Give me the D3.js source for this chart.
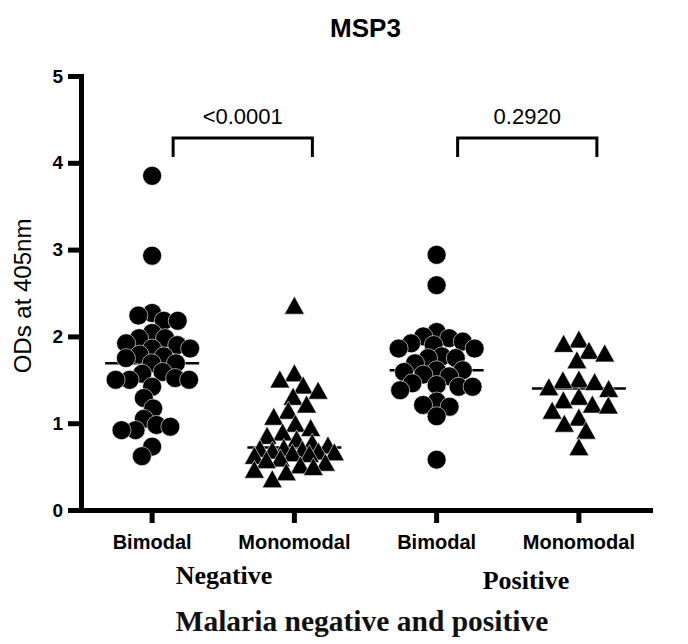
<!DOCTYPE html>
<html>
<head>
<meta charset="utf-8">
<script src="https://cdn.jsdelivr.net/npm/d3@7"></script>
<style>
  body { margin: 0; background: #fff; }
  svg { display: block; }
</style>
</head>
<body>
<div id="chart"></div>
<script>
// group names and x tick labels
const groups = ["negBimodal", "negMonomodal", "posBimodal", "posMonomodal"];
const tickLabels = ["Bimodal", "Monomodal", "Bimodal", "Monomodal"];
const groupShapes = ["circle", "triangle", "circle", "triangle"];

// ODs
const negBimodal = [3.85, 2.93, 2.27, 2.24, 2.18, 2.18, 2.04, 1.98, 1.98, 1.92, 1.90, 1.86, 1.86, 1.79, 1.77, 1.75, 1.69,
  1.69, 1.59, 1.57, 1.52, 1.50, 1.50, 1.50, 1.42, 1.29, 1.17, 1.05, 0.98, 0.96, 0.92, 0.92, 0.73, 0.62];
const negMonomodal = [2.36, 1.58, 1.51, 1.44, 1.38, 1.31, 1.22, 1.15, 1.08, 1.00, 0.95, 0.90, 0.86, 0.82, 0.78, 0.75, 0.72,
  0.71, 0.70, 0.69, 0.68, 0.67, 0.66, 0.65, 0.63, 0.60, 0.58, 0.55, 0.52, 0.50, 0.47, 0.44, 0.36];
const posBimodal = [2.94, 2.59, 2.05, 2.00, 1.98, 1.94, 1.92, 1.90, 1.86, 1.86, 1.77, 1.75, 1.75, 1.69, 1.61,
  1.61, 1.59, 1.56, 1.54, 1.46, 1.44, 1.42, 1.42, 1.38, 1.25, 1.21, 1.19, 1.08, 0.58];
const posMonomodal = [1.97, 1.92, 1.84, 1.81, 1.73, 1.51, 1.50, 1.48, 1.42, 1.40, 1.31, 1.27, 1.22, 1.21, 1.15, 1.07,
  1.00, 0.92, 0.73];

const yTicks = [0, 1, 2, 3, 4, 5];
const comparisons = [
  {from: "negBimodal", to: "negMonomodal", label: "<0.0001"},
  {from: "posBimodal", to: "posMonomodal", label: "0.2920"}
];

const seriesValues = {negBimodal, negMonomodal, posBimodal, posMonomodal};

const width = 688, height = 644;
const margin = {top: 76, left: 81, bottom: 134, right: 38};

const svg = d3.select("#chart").append("svg")
    .attr("width", width)
    .attr("height", height);

const x = d3.scaleBand()
    .domain(groups)
    .range([margin.left, width - margin.right]);

const y = d3.scaleLinear()
    .domain([0, 5])
    .range([height - margin.bottom, margin.top]);

const sans = "'Liberation Sans', Arial, sans-serif";
const serif = "'Liberation Serif', 'Times New Roman', serif";

// beeswarm: each point as close to the centre as it can go,
// vertical distance counts k times, spread capped at maxW
const swarm = (values, d, k, maxW) => {
    const placed = [];
    const pts = values.map(v => ({v, y: y(v)})).sort((a, b) => a.y - b.y);
    const dist2 = (q, c, py) => (q.dx - c) ** 2 + (k * (q.y - py)) ** 2;
    pts.forEach(p => {
        const cands = [0];
        placed.forEach(q => {
            const dy = k * Math.abs(q.y - p.y);
            if (dy < d) {
                const dx = Math.sqrt(d * d - dy * dy);
                cands.push(q.dx + dx, q.dx - dx);
            }
        });
        const ok = cands.filter(c => Math.abs(c) <= maxW && placed.every(q => dist2(q, c, p.y) >= d * d - 0.01));
        ok.sort((a, b) => Math.abs(a) - Math.abs(b) || a - b);
        if (ok.length) {
            p.dx = ok[0];
        } else {
            // no free spot inside the cap: take the least crowded one
            let best = 0, bestD = -1;
            for (let c = 0; c <= maxW; c += 1) {
                [c, -c].forEach(cc => {
                    const m = d3.min(placed, q => dist2(q, cc, p.y));
                    if (m > bestD + 0.5) { bestD = m; best = cc; }
                });
            }
            p.dx = best;
        }
        placed.push(p);
    });
    return placed;
};

const triangle = "M0,-9L10,9L-10,9Z";

// median lines
svg.append("g")
  .selectAll("line")
  .data(groups)
  .join("line")
    .attr("x1", g => x(g) + x.bandwidth() / 2 - 47)
    .attr("x2", g => x(g) + x.bandwidth() / 2 + 47)
    .attr("y1", g => y(d3.median(seriesValues[g])))
    .attr("y2", g => y(d3.median(seriesValues[g])))
    .attr("stroke", "#000")
    .attr("stroke-width", 2.5);

// points
groups.forEach((g, i) => {
    const cx = x(g) + x.bandwidth() / 2;
    const isCircle = groupShapes[i] === "circle";
    const pts = isCircle ? swarm(seriesValues[g], 14, 1, 38) : swarm(seriesValues[g], 16, 1.1, 40);
    const layer = svg.append("g");
    if (isCircle) {
        layer.selectAll("circle")
          .data(pts)
          .join("circle")
            .attr("cx", p => cx + p.dx)
            .attr("cy", p => p.y)
            .attr("r", 9.5)
            .attr("fill", "#000")
            .attr("stroke", "#fff")
            .attr("stroke-width", 0.6);
    } else {
        layer.selectAll("path")
          .data(pts)
          .join("path")
            .attr("d", triangle)
            .attr("transform", p => `translate(${cx + p.dx},${p.y})`)
            .attr("fill", "#000")
            .attr("stroke", "#fff")
            .attr("stroke-width", 0.6);
    }
});

// Y axis
const yAxis = svg.append("g")
    .attr("transform", `translate(${margin.left},0)`)
    .call(d3.axisLeft(y).tickValues(yTicks).tickFormat(d3.format("d")).tickSize(13).tickSizeOuter(0).tickPadding(5));
yAxis.select(".domain").attr("stroke-width", 5).attr("stroke-linecap", "square");
yAxis.selectAll(".tick line").attr("stroke-width", 5);
yAxis.selectAll(".tick text")
    .attr("font-family", sans)
    .attr("font-size", 19)
    .attr("font-weight", "bold")
    .attr("fill", "#000");

// X axis
const xAxis = svg.append("g")
    .attr("transform", `translate(0,${y(0)})`)
    .call(d3.axisBottom(x).tickSize(13).tickSizeOuter(0).tickFormat((d, i) => tickLabels[i]));
xAxis.select(".domain").attr("stroke-width", 5).attr("stroke-linecap", "square");
xAxis.selectAll(".tick line").attr("stroke-width", 5);
xAxis.selectAll(".tick text")
    .attr("dy", null)
    .attr("y", 39)
    .attr("font-family", sans)
    .attr("font-size", 20)
    .attr("font-weight", "bold")
    .attr("fill", "#000");

// significance brackets
const br = svg.append("g");
comparisons.forEach(c => {
    const x1 = x(c.from) + x.bandwidth() / 2 + 21;
    const x2 = x(c.to) + x.bandwidth() / 2 + 18;
    const top = 138, drop = 19;
    br.append("path")
        .attr("d", `M${x1},${top + drop}V${top}H${x2}V${top + drop}`)
        .attr("fill", "none")
        .attr("stroke", "#000")
        .attr("stroke-width", 3);
    br.append("text")
        .attr("x", (x1 + x2) / 2)
        .attr("y", 124)
        .attr("text-anchor", "middle")
        .attr("font-family", sans)
        .attr("font-size", 22)
        .text(c.label);
});

// title
svg.append("text")
    .attr("x", (margin.left + width - margin.right) / 2)
    .attr("y", 37)
    .attr("text-anchor", "middle")
    .attr("font-family", sans)
    .attr("font-size", 26)
    .attr("font-weight", "bold")
    .text("MSP3");

// y label
svg.append("text")
    .attr("transform", `translate(31,296) rotate(-90)`)
    .attr("text-anchor", "middle")
    .attr("font-family", sans)
    .attr("font-size", 24)
    .text("ODs at 405nm");

// group labels under the ticks
svg.append("text")
    .attr("x", 224)
    .attr("y", 584)
    .attr("text-anchor", "middle")
    .attr("font-family", serif)
    .attr("font-size", 26)
    .attr("font-weight", "bold")
    .text("Negative");

svg.append("text")
    .attr("x", 526)
    .attr("y", 589)
    .attr("text-anchor", "middle")
    .attr("font-family", serif)
    .attr("font-size", 26)
    .attr("font-weight", "bold")
    .text("Positive");

svg.append("text")
    .attr("x", 362)
    .attr("y", 631)
    .attr("text-anchor", "middle")
    .attr("font-family", serif)
    .attr("font-size", 29.5)
    .attr("font-weight", "bold")
    .attr("fill", "#111")
    .text("Malaria negative and positive");
</script>
</body>
</html>
